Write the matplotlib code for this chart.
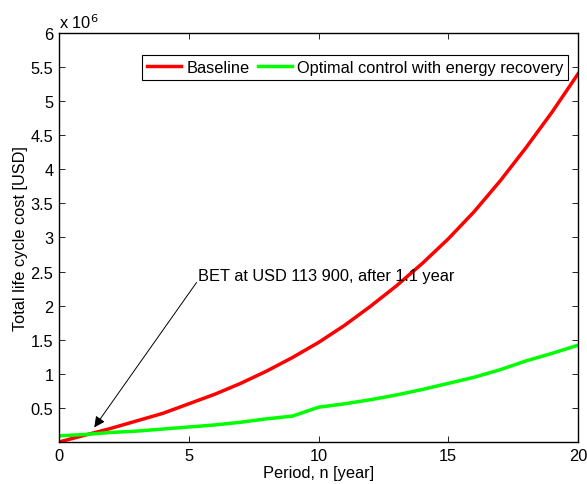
import numpy as np
import matplotlib
matplotlib.use("Agg")
import matplotlib.pyplot as plt

plt.rcParams['font.family'] = ['Liberation Sans', 'DejaVu Sans']
plt.rcParams['font.size'] = 11.8

# data, values in million USD
years = [0, 1, 2, 3, 4, 5, 6, 7, 8, 9, 10, 11, 12, 13, 14, 15, 16, 17, 18, 19, 20]
baseline = [0.0, 0.10, 0.20, 0.31, 0.42, 0.56, 0.70, 0.86, 1.04, 1.24, 1.46,
            1.71, 1.99, 2.29, 2.62, 2.98, 3.38, 3.83, 4.32, 4.84, 5.40]
optimal = [0.09, 0.11, 0.14, 0.16, 0.19, 0.22, 0.25, 0.29, 0.34, 0.38, 0.51,
           0.56, 0.62, 0.69, 0.77, 0.86, 0.95, 1.06, 1.19, 1.30, 1.42]
series_names = ['Baseline', 'Optimal control with energy recovery']
yticks = [0.5, 1, 1.5, 2, 2.5, 3, 3.5, 4, 4.5, 5, 5.5, 6]
ytick_labels = ['0.5', '1', '1.5', '2', '2.5', '3', '3.5', '4', '4.5', '5', '5.5', '6']

fig = plt.figure(figsize=(5.87, 4.85), dpi=100)
ax = fig.add_axes([0.1005, 0.0866, 0.8842, 0.8433])

ax.plot(years, baseline, color=(1, 0, 0), lw=2.5, label=series_names[0])
ax.plot(years, optimal, color=(0, 1, 0), lw=2.5, label=series_names[1])

ax.set_xlim(0, 20)
ax.set_ylim(0, 6)
ax.set_xticks([0, 5, 10, 15, 20])
ax.set_yticks(yticks)
ax.set_yticklabels(ytick_labels)
ax.tick_params(direction='in', top=True, right=True, length=4, width=0.6, pad=4)
for s in ax.spines.values():
    s.set_linewidth(1.0)

ax.set_xlabel('Period, n [year]', labelpad=2)
ax.set_ylabel('Total life cycle cost [USD]', labelpad=2)
ax.text(0.0, 1.004, r'x 10$^6$', transform=ax.transAxes, ha='left', va='bottom')

# BET annotation: text and arrow drawn separately
ax.text(5.35, 2.44, 'BET at USD 113 900, after 1.1 year', ha='left', va='center')
ax.annotate('', xy=(1.36, 0.215), xytext=(5.3, 2.34),
            arrowprops=dict(arrowstyle='-|>', color='black', lw=0.7, mutation_scale=16,
                            shrinkA=0, shrinkB=0))

leg = ax.legend(loc='upper right', bbox_to_anchor=(0.981, 0.946), borderaxespad=0,
                ncol=2, fancybox=False, framealpha=1, edgecolor='black',
                handlelength=2.1, handletextpad=0.3, columnspacing=0.5,
                borderpad=0.3)
leg.get_frame().set_linewidth(0.8)

fig.savefig('out.png', dpi=100)
